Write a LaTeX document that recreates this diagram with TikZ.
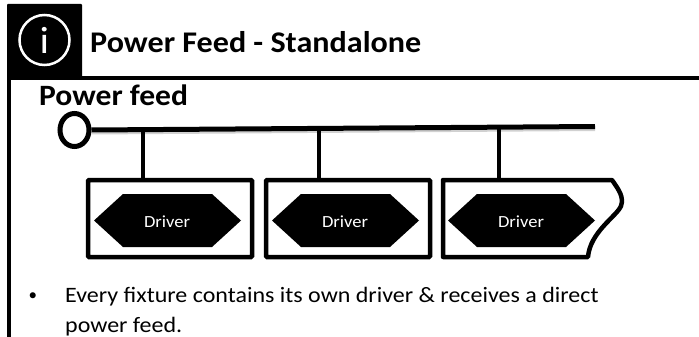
\documentclass[tikz,border=0pt]{standalone}
\usepackage{fontspec}
\setmainfont{Carlito}
\newfontfamily\widebold[FakeStretch=1.07]{Carlito Bold}
\newfontfamily\widereg[FakeStretch=1.09]{Carlito}
\usetikzlibrary{calc,shapes.geometric}
\tikzset{
  framebox/.style={draw=black,line width=4.5pt,rounded corners=1pt,minimum width=164pt,minimum height=77pt,inner sep=0pt,fill=white},
  hexlabel/.style={text=white,font=\widereg\fontsize{17}{18}\selectfont,inner sep=0pt},
  headtext/.style={anchor=base west,inner sep=0pt,font=\widebold\fontsize{30}{32}\selectfont},
  feedtext/.style={anchor=base west,inner sep=0pt,font=\widebold\fontsize{29.5}{32}\selectfont},
  bodytext/.style={anchor=base west,inner sep=0pt,font=\widereg\fontsize{22}{24}\selectfont},
  bullettext/.style={anchor=base west,inner sep=0pt,font=\fontsize{17}{20}\selectfont},
  shade line/.style={draw=black!18,line width=2pt},
}
\newcommand{\hexshape}[1]{\fill[black] ($(#1)+(-73.5,0)$) -- ($(#1)+(-44.5,-26.5)$) -- ($(#1)+(44.5,-26.5)$) -- ($(#1)+(73.5,0)$) -- ($(#1)+(44.5,26.5)$) -- ($(#1)+(-44.5,26.5)$) -- cycle;}
\begin{document}
\begin{tikzpicture}[x=1pt,y=-1pt]
\useasboundingbox (0,0) rectangle (699,337);
% header frame
\fill[black,rounded corners=1pt] (7,4) rectangle (82,80);
\draw[black,line width=4pt] (7,78) -- (699,78);
\draw[black,line width=4pt] (9,78) -- (9,337);
\node[draw=white,line width=2.5pt,circle,minimum size=50pt,inner sep=0pt,text=white,font=\widereg\fontsize{38}{40}\selectfont] (info) at (44.5,40) {i};
\node[headtext] (title) at (90,52.3) {Power Feed - Standalone};
\node[feedtext] (feedlabel) at (39,105) {Power feed};
% bus
\node[draw=black,line width=5pt,ellipse,minimum width=29pt,minimum height=33pt,inner sep=0pt] (source) at (74.5,130) {};
\coordinate (busend) at (595,126.5);
\draw[shade line] ($(source.east)+(0,3.5)$) -- ($(busend)+(0,3.5)$);
\draw[black,line width=5pt] (source.east) -- (busend);
\coordinate (tap1) at (143,128);
\coordinate (tap2) at (319,127.5);
\coordinate (tap3) at (499,127);
% boxes
\node[framebox] (box1) at (170,218.5) {};
\node[framebox] (box2) at (348,218.5) {};
\draw[black,line width=4.5pt,line join=round,fill=white] (443,180) -- (612,180)
  .. controls (619,190) and (624,197) .. (621,206)
  .. controls (617,216) and (590,232) .. (588,257)
  -- (443,257) -- cycle;
\coordinate (box3top) at (499,180);
\draw[black,line width=4.5pt] (tap1) -- (box1.north -| tap1);
\draw[black,line width=4.5pt] (tap2) -- (box2.north -| tap2);
\draw[black,line width=4.5pt] (tap3) -- (box3top);
% drivers
\coordinate (h1) at (167.5,220.5);
\coordinate (h2) at (345.5,220.5);
\coordinate (h3) at (521.5,220.5);
\hexshape{h1}\hexshape{h2}\hexshape{h3}
\node[hexlabel] (d1) at (167,221.5) {Driver};
\node[hexlabel] (d2) at (345,221.5) {Driver};
\node[hexlabel] (d3) at (521,221.5) {Driver};
% bullet text
\node[bullettext] (bullet) at (28.5,300) {•};
\node[bodytext] (line1) at (65,302.5) {Every fixture contains its own driver \& receives a direct};
\node[bodytext] (line2) at (65,332) {power feed.};
\end{tikzpicture}
\end{document}
